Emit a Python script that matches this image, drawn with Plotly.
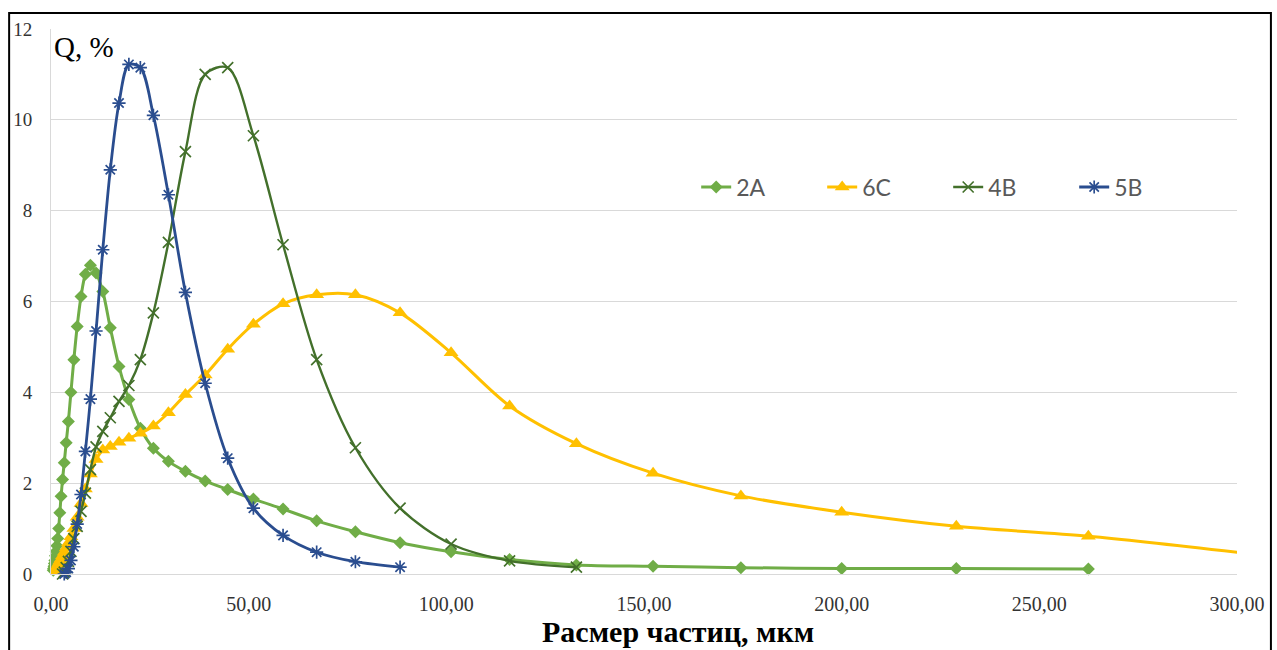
import plotly.graph_objects as go

# ---------------- data ----------------
x_2a = [0.57, 0.65, 0.75, 0.86, 0.98, 1.13, 1.29, 1.48, 1.69, 1.94, 2.23, 2.55, 2.92, 3.35,
        3.84, 4.40, 5.04, 5.78, 6.62, 7.59, 8.70, 9.97, 11.4, 13.1, 15.0, 17.2, 19.7, 22.6,
        25.9, 29.7, 34.0, 39.0, 44.7, 51.2, 58.7, 67.2, 77.0, 88.3, 101.2, 116.0, 132.9,
        152.3, 174.5, 200.0, 229.0, 262.4]
y_2a = [0.08, 0.12, 0.17, 0.23, 0.30, 0.40, 0.50, 0.62, 0.78, 1.00, 1.35, 1.71, 2.08, 2.45,
        2.89, 3.36, 4.00, 4.72, 5.45, 6.11, 6.60, 6.80, 6.63, 6.22, 5.42, 4.57, 3.84, 3.21,
        2.77, 2.48, 2.26, 2.05, 1.86, 1.65, 1.43, 1.17, 0.93, 0.69, 0.49, 0.32, 0.20,
        0.17, 0.14, 0.12, 0.12, 0.11]

x_6c = [0.98, 1.13, 1.29, 1.48, 1.69, 1.94, 2.23, 2.55, 2.92, 3.35, 3.84, 4.40, 5.04, 5.78,
        6.62, 7.59, 8.70, 9.97, 11.4, 13.1, 15.0, 17.2, 19.7, 22.6, 25.9, 29.7, 34.0, 39.0,
        44.7, 51.2, 58.7, 67.2, 77.0, 88.3, 101.2, 116.0, 132.9, 152.3, 174.5, 200.0, 229.0,
        262.4, 300.7]
y_6c = [0.03, 0.06, 0.10, 0.14, 0.18, 0.23, 0.28, 0.33, 0.40, 0.48, 0.57, 0.68, 0.82, 1.00,
        1.25, 1.55, 1.87, 2.20, 2.52, 2.73, 2.81, 2.90, 2.99, 3.10, 3.26, 3.55, 3.95, 4.38,
        4.95, 5.50, 5.95, 6.15, 6.15, 5.75, 4.87, 3.70, 2.87, 2.22, 1.72, 1.36, 1.05,
        0.83, 0.47]

x_4b = [2.92, 3.35, 3.84, 4.40, 5.04, 5.78, 6.62, 7.59, 8.70, 9.97, 11.4, 13.1, 15.0, 17.2,
        19.7, 22.6, 25.9, 29.7, 34.0, 39.0, 44.7, 51.2, 58.7, 67.2, 77.0, 88.3, 101.2,
        116.0, 132.9]
y_4b = [0.00, 0.04, 0.14, 0.28, 0.50, 0.78, 1.05, 1.38, 1.78, 2.30, 2.80, 3.14, 3.44, 3.80,
        4.15, 4.72, 5.75, 7.30, 9.30, 11.00, 11.15, 9.65, 7.25, 4.72, 2.78, 1.45, 0.66,
        0.29, 0.15]

x_5b = [3.35, 3.84, 4.40, 5.04, 5.78, 6.62, 7.59, 8.70, 9.97, 11.4, 13.1, 15.0, 17.2, 19.7,
        22.6, 25.9, 29.7, 34.0, 39.0, 44.7, 51.2, 58.7, 67.2, 77.0, 88.3]
y_5b = [0.00, 0.04, 0.12, 0.30, 0.60, 1.10, 1.75, 2.70, 3.85, 5.35, 7.14, 8.90, 10.37, 11.22,
        11.15, 10.10, 8.35, 6.20, 4.20, 2.55, 1.45, 0.85, 0.48, 0.27, 0.15]

x_tick_vals = [0, 50, 100, 150, 200, 250, 300]
x_tick_text = ["0,00", "50,00", "100,00", "150,00", "200,00", "250,00", "300,00"]
y_tick_vals = [0, 2, 4, 6, 8, 10, 12]
y_tick_text = ["0", "2", "4", "6", "8", "10", "12"]

# ---------------- figure ----------------
SERIF = "Liberation Serif, Times New Roman, serif"

fig = go.Figure()
fig.add_trace(go.Scatter(
    x=x_2a, y=y_2a, name="2A", mode="lines+markers", cliponaxis=False,
    line=dict(color="#70AD47", width=3, shape="spline", smoothing=0.9),
    marker=dict(symbol="diamond", size=10, color="#70AD47")))
fig.add_trace(go.Scatter(
    x=x_6c, y=y_6c, name="6C", mode="lines+markers", cliponaxis=True,
    line=dict(color="#FFC000", width=3, shape="spline", smoothing=0.9),
    marker=dict(symbol="triangle-up", size=13, color="#FFC000")))
fig.add_trace(go.Scatter(
    x=x_4b, y=y_4b, name="4B", mode="lines+markers", cliponaxis=False,
    line=dict(color="#43702B", width=2.4, shape="spline", smoothing=0.9),
    marker=dict(symbol="x-thin", size=11, color="#43702B",
                line=dict(color="#43702B", width=1.7))))
fig.add_trace(go.Scatter(
    x=x_5b, y=y_5b, name="5B", mode="lines+markers", cliponaxis=False,
    line=dict(color="#2A4D8F", width=2.8, shape="spline", smoothing=0.9),
    marker=dict(symbol="asterisk", size=11, color="#2A4D8F",
                line=dict(color="#2A4D8F", width=1.7))))

fig.update_layout(
    width=1277, height=650,
    margin=dict(l=51, r=37, t=29, b=76, pad=0),
    paper_bgcolor="white", plot_bgcolor="white",
    showlegend=True,
    legend=dict(orientation="h", x=0.544, y=0.71, xanchor="left", yanchor="middle",
                font=dict(family="Lato, Noto Sans, sans-serif", size=23, color="#595959"),
                bgcolor="rgba(255,255,255,0)", entrywidth=81, entrywidthmode="pixels",
                itemwidth=30),
    xaxis=dict(range=[0, 300], tickmode="array", tickvals=x_tick_vals, ticktext=x_tick_text,
               showgrid=False, zeroline=False, showline=True, linecolor="#D9D9D9",
               linewidth=1, ticks="", ticklabelstandoff=12,
               tickfont=dict(family=SERIF, size=20, color="#333333")),
    yaxis=dict(range=[0, 12], tickmode="array", tickvals=y_tick_vals, ticktext=y_tick_text,
               showgrid=True, gridcolor="#D9D9D9", gridwidth=1, zeroline=False,
               showline=True, linecolor="#D9D9D9", linewidth=1, ticks="",
               ticklabelstandoff=14,
               tickfont=dict(family=SERIF, size=19, color="#333333")),
    annotations=[
        dict(text="Q, %", xref="paper", yref="paper", x=0, y=1, xanchor="left",
             yanchor="top", xshift=1, yshift=0, showarrow=False,
             font=dict(family=SERIF, size=29, color="black")),
        dict(text="<b>Расмер частиц, мкм</b>", xref="paper", yref="paper", x=0.529,
             y=-0.106, xanchor="center", yanchor="middle", showarrow=False,
             font=dict(family=SERIF, size=30, color="black")),
    ],
    shapes=[dict(type="rect", xref="paper", yref="paper", x0=-0.0353, x1=1.0286,
                 y0=-0.16, y1=1.0294, line=dict(color="black", width=2),
                 fillcolor="rgba(0,0,0,0)", layer="above")],
)

fig.write_html("out.html", config={"displayModeBar": False},
               post_script="document.body.style.margin='0';")
